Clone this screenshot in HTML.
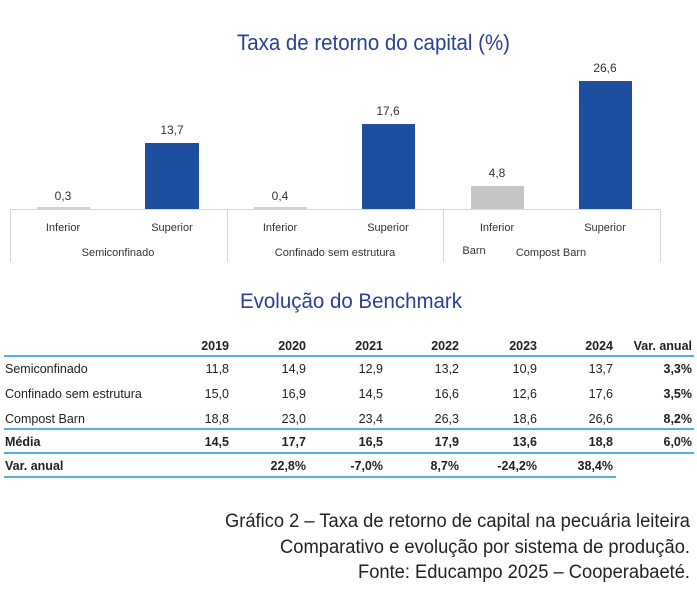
<!DOCTYPE html>
<html><head><meta charset="utf-8"><style>
html,body{margin:0;padding:0;background:#fff}
svg{display:block}
.t{font-family:"Liberation Sans",sans-serif}
</style></head><body>
<svg width="697" height="590" viewBox="0 0 697 590" class="t">
<text x="237" y="50" font-size="22" fill="#2a3f95" textLength="273" lengthAdjust="spacingAndGlyphs">Taxa de retorno do capital (%)</text>
<!-- bars -->
<rect x="37" y="207" width="53" height="2" fill="#d0d0d0"/>
<rect x="145" y="143" width="54" height="66" fill="#1d4ea0"/>
<rect x="254" y="207" width="53" height="2" fill="#d0d0d0"/>
<rect x="362" y="124" width="53" height="85" fill="#1d4ea0"/>
<rect x="471" y="186" width="53" height="23" fill="#c4c6c7"/>
<rect x="579" y="81" width="53" height="128" fill="#1d4ea0"/>
<g font-size="12" fill="#333" text-anchor="middle">
<text x="63" y="200">0,3</text>
<text x="172" y="134">13,7</text>
<text x="280" y="200">0,4</text>
<text x="388" y="115">17,6</text>
<text x="497" y="177">4,8</text>
<text x="605" y="72">26,6</text>
<text x="63" y="231" font-size="11">Inferior</text>
<text x="172" y="231" font-size="11">Superior</text>
<text x="280" y="231" font-size="11">Inferior</text>
<text x="388" y="231" font-size="11">Superior</text>
<text x="497" y="231" font-size="11">Inferior</text>
<text x="605" y="231" font-size="11">Superior</text>
<text x="118" y="256" font-size="11">Semiconfinado</text>
<text x="335" y="256" font-size="11">Confinado sem estrutura</text>
<text x="551" y="256" font-size="11">Compost Barn</text>
<text x="474" y="254" font-size="11">Barn</text>
</g>
<g stroke="#d8d8d8" stroke-width="1">
<line x1="10" y1="209.5" x2="660" y2="209.5"/>
<line x1="10.5" y1="209" x2="10.5" y2="262"/>
<line x1="227.5" y1="209" x2="227.5" y2="262"/>
<line x1="443.5" y1="209" x2="443.5" y2="262"/>
<line x1="660.5" y1="209" x2="660.5" y2="262"/>
</g>
<text x="240" y="308" font-size="21" fill="#2a3f95" textLength="222" lengthAdjust="spacingAndGlyphs">Evolução do Benchmark</text>
<!-- table -->
<g font-size="12.5" fill="#222" text-anchor="end">
<g font-weight="bold">
<text x="229" y="350">2019</text><text x="306" y="350">2020</text><text x="383" y="350">2021</text><text x="459" y="350">2022</text><text x="537" y="350">2023</text><text x="613" y="350">2024</text><text x="692" y="350">Var. anual</text>
</g>
<text x="229" y="373">11,8</text><text x="306" y="373">14,9</text><text x="383" y="373">12,9</text><text x="459" y="373">13,2</text><text x="537" y="373">10,9</text><text x="613" y="373">13,7</text><text x="692" y="373" font-weight="bold">3,3%</text>
<text x="229" y="398">15,0</text><text x="306" y="398">16,9</text><text x="383" y="398">14,5</text><text x="459" y="398">16,6</text><text x="537" y="398">12,6</text><text x="613" y="398">17,6</text><text x="692" y="398" font-weight="bold">3,5%</text>
<text x="229" y="423">18,8</text><text x="306" y="423">23,0</text><text x="383" y="423">23,4</text><text x="459" y="423">26,3</text><text x="537" y="423">18,6</text><text x="613" y="423">26,6</text><text x="692" y="423" font-weight="bold">8,2%</text>
<g font-weight="bold">
<text x="229" y="446">14,5</text><text x="306" y="446">17,7</text><text x="383" y="446">16,5</text><text x="459" y="446">17,9</text><text x="537" y="446">13,6</text><text x="613" y="446">18,8</text><text x="692" y="446">6,0%</text>
<text x="306" y="470">22,8%</text><text x="383" y="470">-7,0%</text><text x="459" y="470">8,7%</text><text x="537" y="470">-24,2%</text><text x="613" y="470">38,4%</text>
</g>
</g>
<g font-size="12.5" fill="#222">
<text x="5" y="373">Semiconfinado</text>
<text x="5" y="398">Confinado sem estrutura</text>
<text x="5" y="423">Compost Barn</text>
<text x="5" y="446" font-weight="bold">Média</text>
<text x="5" y="470" font-weight="bold">Var. anual</text>
</g>
<g stroke="#4cb3e6" stroke-width="2">
<line x1="4" y1="356" x2="694" y2="356"/>
<line x1="4" y1="429" x2="694" y2="429"/>
<line x1="4" y1="453" x2="694" y2="453"/>
<line x1="4" y1="477" x2="616" y2="477"/>
</g>
<g font-size="19" fill="#222" text-anchor="end">
<text x="690" y="527" textLength="465" lengthAdjust="spacingAndGlyphs">Gráfico 2 – Taxa de retorno de capital na pecuária leiteira</text>
<text x="690" y="553" textLength="410" lengthAdjust="spacingAndGlyphs">Comparativo e evolução por sistema de produção.</text>
<text x="690" y="578" textLength="332" lengthAdjust="spacingAndGlyphs">Fonte: Educampo 2025 – Cooperabaeté.</text>
</g>
</svg>
</body></html>
